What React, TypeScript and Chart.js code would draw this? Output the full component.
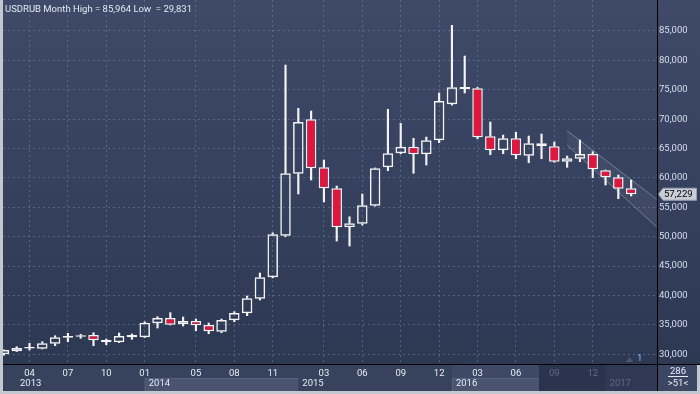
import React, { useEffect, useRef } from 'react';
import { Chart, registerables } from 'chart.js';

Chart.register(...registerables);

const symbolName = 'USDRUB';
const periodName = 'Month';

const categories = [
  '2013-02', '2013-03', '2013-04', '2013-05', '2013-06', '2013-07', '2013-08', '2013-09', '2013-10', '2013-11', '2013-12',
  '2014-01', '2014-02', '2014-03', '2014-04', '2014-05', '2014-06', '2014-07', '2014-08', '2014-09', '2014-10', '2014-11', '2014-12',
  '2015-01', '2015-02', '2015-03', '2015-04', '2015-05', '2015-06', '2015-07', '2015-08', '2015-09', '2015-10', '2015-11', '2015-12',
  '2016-01', '2016-02', '2016-03', '2016-04', '2016-05', '2016-06', '2016-07', '2016-08', '2016-09', '2016-10', '2016-11', '2016-12',
  '2017-01', '2017-02', '2017-03',
];

const openValues = [
  30000, 30510, 30980, 30950, 31800, 32830, 33000, 33280, 32430, 32040, 33280,
  32890, 35270, 36170, 35100, 35660, 34980, 33840, 35780, 36970, 39460, 43100, 50170,
  60720, 69970, 61810, 58240, 51600, 52220, 55280, 61810, 64190, 65310, 64020, 66400,
  72530, 75130, 75250, 67080, 64700, 66740, 63780, 65890, 65380, 62760, 63270, 64070,
  61300, 60110, 58240,
];

const highValues = [
  30780, 31290, 31870, 32140, 33160, 33570, 33400, 33670, 32600, 33620, 33450,
  35540, 36400, 37080, 36340, 36000, 35320, 36000, 37250, 39920, 43830, 50680, 79210,
  71850, 71390, 63050, 58630, 53400, 57270, 61700, 71670, 69290, 66740, 66950, 74450,
  85964, 80740, 75400, 69510, 67300, 67760, 67130, 67470, 66110, 63730, 66450, 64460,
  61350, 60500, 59650,
];

const lowValues = [
  29831, 30480, 30730, 30900, 31460, 32140, 32720, 31460, 31630, 32000, 32550,
  32850, 34470, 34990, 34810, 34010, 33500, 33670, 35540, 36570, 39240, 43000, 50000,
  57270, 59650, 55910, 49270, 48420, 52000, 55200, 61230, 64100, 60790, 62200, 66000,
  72400, 74450, 66670, 63950, 64120, 63270, 62590, 63270, 62660, 61810, 62760, 60040,
  58800, 56470, 56930,
];

const closeValues = [
  30730, 31070, 31060, 31870, 32890, 33110, 33230, 32380, 32040, 33110, 32890,
  35370, 36170, 35040, 35660, 34930, 33910, 35830, 37020, 39530, 43100, 50410, 60790,
  69510, 61640, 58240, 51600, 52280, 55350, 61640, 64190, 65310, 64020, 66400, 73090,
  75420, 75470, 66910, 64700, 66740, 63850, 65890, 65380, 62760, 63340, 64070, 61470,
  60110, 58170, 57229,
];

const yTickValues = [30000, 35000, 40000, 45000, 50000, 55000, 60000, 65000, 70000, 75000, 80000, 85000];
const monthTickIndex = [2, 5, 8, 11, 15, 18, 21, 25, 28, 31, 34, 37, 40, 43, 46];
const monthTickLabels = ['04', '07', '10', '01', '05', '08', '11', '03', '06', '09', '12', '03', '06', '09', '12'];
const yearLabels = ['2013', '2014', '2015', '2016', '2017'];
const yearStartIndex = [-1, 11, 23, 35, 47];
const selectionStartIndex = 41.8;
const channelIndex = [44, 51];
const channelUpper = [68030, 56370];
const channelLower = [65600, 51650];
const countTotal = '286';
const countVisible = '>51<';
const markerLabel = '1';

const FONT = 'Roboto, "Liberation Sans", Arial, sans-serif';
const fmt = (v: number) => Math.round(v).toLocaleString('en-US');

const decorPlugin = {
  id: 'decor',
  beforeDraw(chart: any) {
    const { ctx, width, height } = chart;
    const xs = chart.scales.x;
    const ca = chart.chartArea;
    ctx.save();
    const g = ctx.createLinearGradient(0, 0, 0, ca.bottom);
    g.addColorStop(0, '#3e4a67');
    g.addColorStop(0.45, '#36425f');
    g.addColorStop(1, '#2d3853');
    ctx.fillStyle = g;
    ctx.fillRect(0, 0, width, ca.bottom);
    ctx.fillStyle = '#37425d';
    ctx.fillRect(0, ca.bottom, width, height - ca.bottom);
    const rowMid = ca.bottom + 14;
    const px = (i: number) => xs.getPixelForValue(i);
    const selX = px(selectionStartIndex);
    for (let k = 0; k < yearLabels.length; k++) {
      if (k % 2 === 1) {
        const x0 = Math.max(ca.left, px(yearStartIndex[k]));
        const x1 = Math.min(selX, k + 1 < yearStartIndex.length ? px(yearStartIndex[k + 1]) : ca.right);
        if (x1 > x0) {
          ctx.fillStyle = '#485470';
          ctx.fillRect(x0, rowMid, x1 - x0, height - rowMid);
          ctx.fillStyle = '#56627d';
          ctx.fillRect(x0, rowMid, x1 - x0, 1);
          ctx.fillRect(x0, rowMid, 1, height - rowMid);
          if (k === 3) {
            ctx.fillStyle = '#3d4965';
            ctx.fillRect(x0, ca.bottom, x1 - x0, rowMid - ca.bottom);
          }
        }
      }
    }
    const x2017 = px(yearStartIndex[4]);
    ctx.fillStyle = '#2a344d';
    ctx.fillRect(selX, ca.bottom, x2017 - selX, height - ca.bottom);
    ctx.fillStyle = '#2f3953';
    ctx.fillRect(x2017, ca.bottom, ca.right - x2017, height - ca.bottom);
    ctx.fillStyle = '#3a4662';
    ctx.fillRect(ca.right, ca.bottom, width - ca.right, height - ca.bottom);
    ctx.restore();
  },
  afterDraw(chart: any) {
    const { ctx, width, height } = chart;
    const xs = chart.scales.x;
    const ys = chart.scales.y;
    const ca = chart.chartArea;
    ctx.save();
    const hi = Math.max(...highValues);
    const lo = Math.min(...lowValues);
    ctx.font = `9.5px ${FONT}`;
    ctx.fillStyle = '#e4e9f3';
    ctx.textBaseline = 'alphabetic';
    ctx.textAlign = 'left';
    ctx.fillText(`${symbolName} ${periodName} High = ${fmt(hi)} Low  = ${fmt(lo)}`, 5, 11.7);

    ctx.font = `9.5px ${FONT}`;
    ctx.textBaseline = 'middle';
    for (let k = 0; k < yearLabels.length; k++) {
      let x = xs.getPixelForValue(yearStartIndex[k]) + 4;
      if (k === 0) x = 20;
      ctx.fillStyle = k === 4 ? '#5f6a85' : '#e6ecf6';
      ctx.fillText(yearLabels[k], x, ca.bottom + 19.5);
    }

    ctx.fillStyle = '#4d5771';
    ctx.beginPath();
    ctx.moveTo(626, ca.bottom - 2);
    ctx.lineTo(629.5, ca.bottom - 7);
    ctx.lineTo(633, ca.bottom - 2);
    ctx.closePath();
    ctx.fill();
    ctx.fillStyle = '#7dbdff';
    ctx.textAlign = 'left';
    ctx.fillText(markerLabel, 637, ca.bottom - 5);

    ctx.fillStyle = '#000000';
    ctx.fillRect(ca.right, 0, 1, height - 3);
    ctx.fillRect(ca.left, ca.bottom, width - ca.left, 1);

    const cx = ca.right + 21;
    ctx.fillStyle = '#e6ecf6';
    ctx.textAlign = 'center';
    ctx.fillText(countTotal, cx, ca.bottom + 8);
    ctx.fillRect(cx - 10, ca.bottom + 12, 20, 1);
    ctx.fillText(countVisible, cx, ca.bottom + 20);

    const last = closeValues[closeValues.length - 1];
    const ty = ys.getPixelForValue(last);
    ctx.beginPath();
    ctx.moveTo(ca.right + 1.5, ty);
    ctx.lineTo(ca.right + 6, ty - 6);
    ctx.lineTo(width - 3.5, ty - 6);
    ctx.lineTo(width - 3.5, ty + 6);
    ctx.lineTo(ca.right + 6, ty + 6);
    ctx.closePath();
    ctx.fillStyle = '#c9cdd5';
    ctx.fill();
    ctx.strokeStyle = '#9aa1ad';
    ctx.lineWidth = 1;
    ctx.stroke();
    ctx.fillStyle = '#000000';
    ctx.textAlign = 'left';
    ctx.fillText(fmt(last), ca.right + 7, ty + 0.5);

    ctx.fillStyle = '#c3c8d0';
    ctx.fillRect(0, 0, 3, height);
    ctx.fillRect(0, height - 3, width, 3);
    ctx.fillRect(width - 3, ca.bottom + 1, 3, height - ca.bottom - 1);
    ctx.restore();
  },
};

export default function App() {
  const ref = useRef<HTMLCanvasElement | null>(null);
  useEffect(() => {
    if (!ref.current) return;
    const n = categories.length;
    const idx = categories.map((_, i) => i);
    const bodies = idx.map((i) => ({ x: i, y: [openValues[i], closeValues[i]] }));
    const upper = idx.map((i) => ({ x: i, y: [Math.max(openValues[i], closeValues[i]), highValues[i]] }));
    const lower = idx.map((i) => ({ x: i, y: [lowValues[i], Math.min(openValues[i], closeValues[i])] }));
    const bodyColors = idx.map((i) => (closeValues[i] < openValues[i] ? '#e0163f' : 'rgba(0,0,0,0)'));
    const gridColor = 'rgba(120,135,165,0.5)';
    const zeroPad = (s: any) => {
      s.paddingTop = 0;
      s.paddingBottom = 0;
      s.paddingLeft = 0;
      s.paddingRight = 0;
    };
    const chart = new Chart(ref.current, {
      type: 'bar',
      data: {
        datasets: [
          {
            type: 'bar',
            data: bodies as any,
            backgroundColor: bodyColors,
            borderColor: '#f4f4f4',
            borderWidth: 1.5,
            borderSkipped: false,
            grouped: false,
            barPercentage: 1,
            categoryPercentage: 0.82,
            minBarLength: 1.5,
          } as any,
          {
            type: 'bar',
            data: upper as any,
            backgroundColor: '#f4f4f4',
            borderWidth: 0,
            grouped: false,
            barThickness: 1.5,
          } as any,
          {
            type: 'bar',
            data: lower as any,
            backgroundColor: '#f4f4f4',
            borderWidth: 0,
            grouped: false,
            barThickness: 1.5,
          } as any,
          {
            type: 'line',
            data: channelIndex.map((x, k) => ({ x, y: channelUpper[k] })),
            borderColor: 'rgba(185,195,215,0.45)',
            borderWidth: 1,
            pointRadius: 0,
            fill: false,
          } as any,
          {
            type: 'line',
            data: channelIndex.map((x, k) => ({ x, y: channelLower[k] })),
            borderColor: 'rgba(185,195,215,0.45)',
            backgroundColor: 'rgba(255,255,255,0.05)',
            borderWidth: 1,
            pointRadius: 0,
            fill: '-1',
          } as any,
        ],
      },
      options: {
        responsive: false,
        animation: false,
        devicePixelRatio: 1,
        layout: { padding: { left: 3, top: 0, right: 0, bottom: 0 } },
        plugins: { legend: { display: false }, tooltip: { enabled: false }, title: { display: false } },
        scales: {
          x: {
            type: 'linear',
            min: -0.07,
            max: n + 1.02,
            offset: false,
            position: 'bottom',
            afterBuildTicks: (s: any) => {
              s.ticks = monthTickIndex.map((v) => ({ value: v }));
            },
            afterFit: (s: any) => {
              s.height = 30;
              zeroPad(s);
            },
            grid: { color: gridColor, lineWidth: 1, drawTicks: false, offset: false },
            border: { display: false, dash: [2, 3] },
            ticks: {
              autoSkip: false,
              maxRotation: 0,
              padding: 4,
              font: { size: 9.5, family: FONT },
              color: (c: any) => (c.index >= 13 ? '#5f6a85' : '#e6ecf6'),
              callback: (_v: any, i: number) => monthTickLabels[i],
            },
          },
          y: {
            type: 'linear',
            position: 'right',
            min: 28350,
            max: 90270,
            afterBuildTicks: (s: any) => {
              s.ticks = yTickValues.map((v) => ({ value: v }));
            },
            afterFit: (s: any) => {
              s.width = 43;
              zeroPad(s);
            },
            grid: { color: gridColor, lineWidth: 1, drawTicks: false },
            border: { display: false, dash: [2, 3] },
            ticks: {
              padding: 2,
              font: { size: 9.5, family: FONT },
              color: '#d6deee',
              callback: (v: any) => fmt(Number(v)),
            },
          },
        },
      } as any,
      plugins: [decorPlugin],
    });
    return () => chart.destroy();
  }, []);
  return (
    <div style={{ position: 'fixed', left: 0, top: 0, width: 700, height: 394 }}>
      <canvas ref={ref} width={700} height={394} style={{ display: 'block' }} />
    </div>
  );
}
